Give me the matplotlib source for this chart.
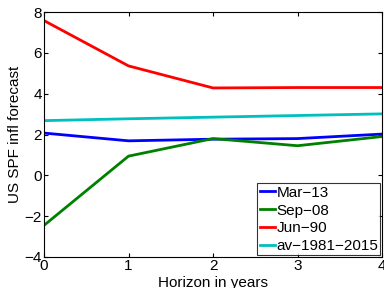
import matplotlib
matplotlib.use("Agg")
import matplotlib.pyplot as plt

plt.rcParams['font.family'] = ['Liberation Sans', 'DejaVu Sans']

horizon = [0, 1, 2, 3, 4]
mar13 = [2.07, 1.69, 1.77, 1.80, 2.02]
sep08 = [-2.45, 0.94, 1.80, 1.45, 1.90]
jun90 = [7.58, 5.36, 4.28, 4.30, 4.30]
av = [2.68, 2.77, 2.85, 2.93, 3.01]
labels = ['Mar\u221213', 'Sep\u221208', 'Jun\u221290', 'av\u22121981\u22122015']

fig = plt.figure(figsize=(3.84, 2.88), dpi=100)
ax = fig.add_axes([44/384, 1-257/288, (382-44)/384, (257-12)/288])
for y, c, l in zip([mar13, sep08, jun90, av], ['#0000ff', '#008000', '#ff0000', '#00bfbf'], labels):
    ax.plot(horizon, y, color=c, lw=2, label=l)
ax.set_xlim(0, 4)
ax.set_ylim(-4, 8)
ax.set_xticks([0, 1, 2, 3, 4])
ax.set_yticks([-4, -2, 0, 2, 4, 6, 8])
ax.set_yticklabels(['\u22124', '\u22122', '0', '2', '4', '6', '8'])
ax.tick_params(direction='in', top=True, right=True, labelsize=11, length=3, pad=1.5)
ax.set_xlabel('Horizon in years', fontsize=11, labelpad=2)
ax.set_ylabel('US SPF infl forecast', fontsize=11, labelpad=2)
leg = ax.legend(loc='lower right', fontsize=11, frameon=True, fancybox=False,
                edgecolor='black', handlelength=1.0, handletextpad=0.1,
                labelspacing=0.25, borderpad=0.15, borderaxespad=0.1)
leg.get_frame().set_linewidth(0.8)
fig.savefig('out.png', dpi=100)
